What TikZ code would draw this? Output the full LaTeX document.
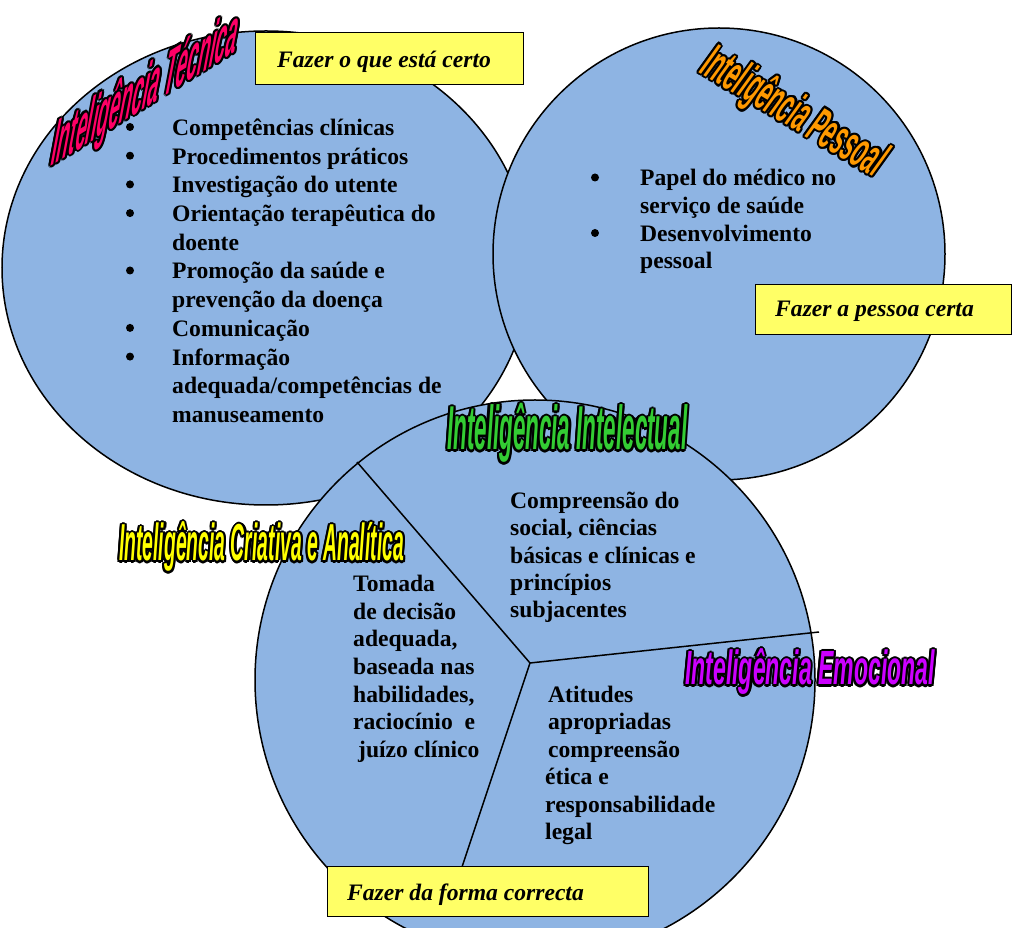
\documentclass[tikz,border=0pt]{standalone}
\usepackage{fontspec}
\usepackage{graphicx}
\setmainfont{Liberation Serif}
\newfontfamily\wafont{Liberation Sans}
\usetikzlibrary{calc}
\definecolor{cblue}{RGB}{142,180,227}
\definecolor{ybox}{RGB}{255,255,102}
\definecolor{tpink}{RGB}{255,0,102}
\definecolor{torange}{RGB}{255,153,0}
\definecolor{tyellow}{RGB}{255,255,0}
\definecolor{tgreen}{RGB}{51,204,51}
\definecolor{tpurple}{RGB}{204,0,255}
\tikzset{
  circ/.style={fill=cblue,draw=black,line width=1.5pt},
  sep/.style={draw=black,line width=1.5pt},
  ybx/.style={fill=ybox,draw=black,line width=1.3pt,inner sep=0,anchor=south west},
  bt/.style={anchor=base west,inner sep=0,font=\fontsize{23.6}{28}\selectfont\bfseries},
  bul/.style={circle,fill=black,inner sep=0,minimum size=8},
  boxt/.style={anchor=base west,inner sep=0,font=\fontsize{23.6}{28}\selectfont\bfseries\itshape},
  wat/.style={anchor=base west,inner sep=0,font=\wafont\bfseries\itshape}
}
\newcommand\wordart[7]{%
  \foreach \wa in {0,30,...,330}{%
    \node[wat,#3,text=black] (#1s\wa) at ($(#2)+(\wa:2.1)$) {\scalebox{#5}[1]{\fontsize{#6}{#6}\selectfont #7}};}%
  \node[wat,#3,text=#4] (#1) at (#2) {\scalebox{#5}[1]{\fontsize{#6}{#6}\selectfont #7}};}
\begin{document}
\begin{tikzpicture}[x=1pt,y=1pt]
\useasboundingbox (0,0) rectangle (1012,927);
% top circles
\path[circ] (266,659) ellipse [x radius=264,y radius=237];
\path[circ] (719,673) circle [radius=226];
% left circle text
\foreach \myY/\myT [count=\i] in {791.5/{Competências clínicas},762.8/{Procedimentos práticos},734.1/{Investigação do utente},705.4/{Orientação terapêutica do},676.7/{doente},648/{Promoção da saúde e},619.3/{prevenção da doença},590.6/{Comunicação},561.9/{Informação},533.2/{adequada/competências de},504.5/{manuseamento}}
  \node[bt] (L\i) at (172,\myY) {\myT};
\foreach \myY [count=\i] in {791.5,762.8,734.1,705.4,648,590.6,561.9}
  \node[bul] (LB\i) at (130,\myY+8.5) {};
% right circle text
\foreach \myY/\myT [count=\i] in {741/{Papel do médico no},713/{serviço de saúde},685.5/{Desenvolvimento},658/{pessoal}}
  \node[bt] (R\i) at (640,\myY) {\myT};
\foreach \myY [count=\i] in {741,685.5}
  \node[bul] (RB\i) at (595,\myY+8.5) {};
% bottom circle
\path[circ] (535,247) circle [radius=280];
\coordinate (cc) at (530,264);
\coordinate (e1) at (357,465);
\coordinate (e2) at (819,295);
\coordinate (e3) at (452,30);
\draw[sep] (cc) -- (e1);
\draw[sep] (cc) -- (e2);
\draw[sep] (cc) -- (e3);
\foreach \myY/\myT [count=\i] in {335.3/{Tomada},307.3/{de decisão},280/{adequada,},252/{baseada nas},224.3/{habilidades,},197/{raciocínio~~e}}
  \node[bt] (C\i) at (353,\myY) {\myT};
\node[bt] (C7) at (358,170) {juízo clínico};
\foreach \myY/\myT [count=\i] in {418.7/{Compreensão do},391.5/{social, ciências},363.7/{básicas e clínicas e},336/{princípios},309/{subjacentes}}
  \node[bt] (I\i) at (510,\myY) {\myT};
\foreach \myY/\myX/\myT [count=\i] in {225/548/{Atitudes},197.5/548/{apropriadas},170/548/{compreensão},142.5/545/{ética e},115/545/{responsabilidade},87.5/545/{legal}}
  \node[bt] (E\i) at (\myX,\myY) {\myT};
% boxes
\node[ybx,minimum width=268,minimum height=52] (b1) at (255,842) {};
\node[boxt] (b1t) at (277,859) {Fazer o que está certo};
\node[ybx,minimum width=256,minimum height=50] (b2) at (755,592) {};
\node[boxt] (b2t) at (775,610) {Fazer a pessoa certa};
\node[ybx,minimum width=321,minimum height=50] (b3) at (327,10) {};
\node[boxt] (b3t) at (347,27) {Fazer da forma correcta};
% titles
\wordart{t1}{50,760}{yslant=0.62,xslant=0.15}{tpink}{0.325}{60}{Inteligência Técnica}
\wordart{t5}{698,855}{rotate=-31}{torange}{0.43}{50}{Inteligência Pessoal}
\wordart{t2}{119,366}{}{tyellow}{0.372}{52}{Inteligência Criativa e Analítica}
\wordart{t3}{447,477}{}{tgreen}{0.361}{62}{Inteligência Intelectual}
\wordart{t4}{685,242}{}{tpurple}{0.48}{48}{Inteligência Emocional}
\end{tikzpicture}
\end{document}
